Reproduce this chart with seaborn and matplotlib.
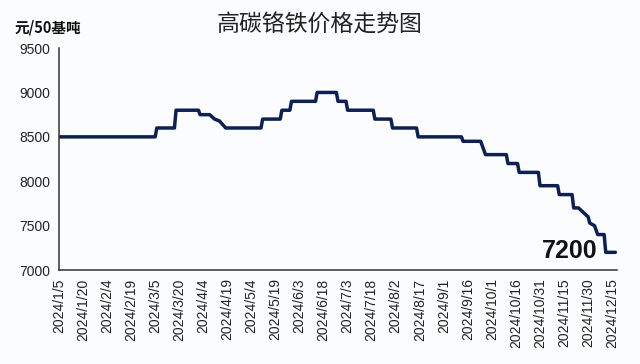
import matplotlib
matplotlib.use("Agg")
import matplotlib.pyplot as plt
import seaborn as sns
import pandas as pd

# ---- data ----
dates = [
    "2024-01-05", "2024-03-05", "2024-03-06", "2024-03-17", "2024-03-18",
    "2024-04-01", "2024-04-02", "2024-04-08", "2024-04-11", "2024-04-14",
    "2024-04-18", "2024-05-10", "2024-05-11", "2024-05-22", "2024-05-23",
    "2024-05-28", "2024-05-29", "2024-06-13", "2024-06-14", "2024-06-26",
    "2024-06-27", "2024-07-02", "2024-07-03", "2024-07-19", "2024-07-20",
    "2024-07-30", "2024-07-31", "2024-08-15", "2024-08-16", "2024-09-12",
    "2024-09-13", "2024-09-24", "2024-09-27", "2024-10-10", "2024-10-11",
    "2024-10-17", "2024-10-18", "2024-10-30", "2024-10-31", "2024-11-11",
    "2024-11-12", "2024-11-20", "2024-11-21", "2024-11-24", "2024-11-30",
    "2024-12-01", "2024-12-04", "2024-12-06", "2024-12-10", "2024-12-11",
    "2024-12-17",
]
prices = [
    8500, 8500, 8600, 8600, 8800,
    8800, 8750, 8750, 8700, 8680,
    8600, 8600, 8700, 8700, 8800,
    8800, 8900, 8900, 9000, 9000,
    8900, 8900, 8800, 8800, 8700,
    8700, 8600, 8600, 8500, 8500,
    8450, 8450, 8300, 8300, 8200,
    8200, 8100, 8100, 7950, 7950,
    7850, 7850, 7700, 7700, 7600,
    7530, 7500, 7400, 7400, 7200,
    7200,
]
tick_labels = [
    "2024/1/5", "2024/1/20", "2024/2/4", "2024/2/19", "2024/3/5", "2024/3/20",
    "2024/4/4", "2024/4/19", "2024/5/4", "2024/5/19", "2024/6/3", "2024/6/18",
    "2024/7/3", "2024/7/18", "2024/8/2", "2024/8/17", "2024/9/1", "2024/9/16",
    "2024/10/1", "2024/10/16", "2024/10/31", "2024/11/15", "2024/11/30",
    "2024/12/15",
]
y_ticks = [7000, 7500, 8000, 8500, 9000, 9500]
title = "高碳铬铁价格走势图"
unit_label = "元/50基吨"
last_label = "7200"

df = pd.DataFrame({"date": pd.to_datetime(dates), "price": prices})
tick_pos = pd.to_datetime(tick_labels, format="%Y/%m/%d")

sns.set_style("white")
plt.rcParams["font.family"] = ["Liberation Sans", "Noto Sans CJK SC", "DejaVu Sans"]

bg = "#fbfcfe"
fig = plt.figure(figsize=(6.4, 3.64), dpi=100, facecolor=bg)
ax = fig.add_axes([0.0922, 0.258, 0.8718, 0.610])
ax.set_facecolor(bg)

sns.lineplot(data=df, x="date", y="price", ax=ax, sort=False,
             color="#0e1f52", linewidth=2.5, estimator=None)

ax.set_xlim(pd.Timestamp("2024-01-05"), pd.Timestamp("2024-12-18"))
ax.set_ylim(7000, 9500)
ax.set_xticks(tick_pos)
ax.set_xticklabels(tick_labels, rotation=90, fontsize=10, color="#222222")
ax.set_yticks(y_ticks)
ax.set_yticklabels([str(v) for v in y_ticks], fontsize=10, color="#222222")
ax.set_xlabel("")
ax.set_ylabel("")

for s in ["top", "right"]:
    ax.spines[s].set_visible(False)
for s in ["left", "bottom"]:
    ax.spines[s].set_color("#333333")
    ax.spines[s].set_linewidth(1.1)
ax.tick_params(axis="both", direction="out", length=4, width=1.0,
               color="#333333", pad=2)

ax.text(df["date"].iloc[-1] - pd.Timedelta(days=11), prices[-1] + 10, last_label,
        ha="right", va="center", fontsize=18, fontweight="bold",
        color="#111111", family=["Liberation Sans", "DejaVu Sans"])

fig.text(0.5, 0.931, title, ha="center", va="center", fontsize=16.5,
         color="#222222", family=["Noto Sans CJK SC", "DejaVu Sans"])
fig.text(0.023, 0.925, unit_label, ha="left", va="center", fontsize=10.5,
         fontweight="bold", color="#111111",
         family=["Noto Sans CJK SC", "DejaVu Sans"])

fig.savefig("out.png", dpi=100, facecolor=bg)
